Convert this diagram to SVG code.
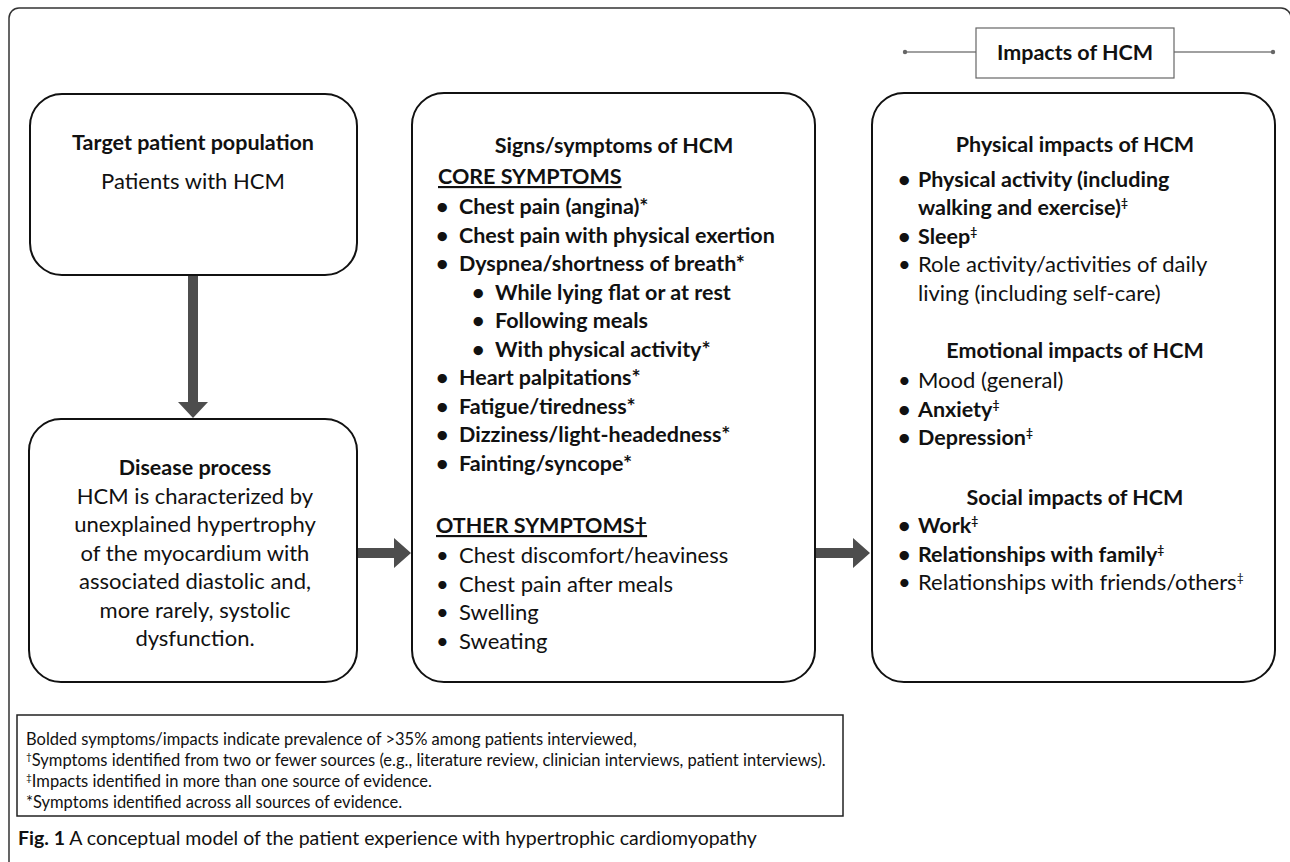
<svg xmlns="http://www.w3.org/2000/svg" width="1290" height="862" viewBox="0 0 1290 862">
<style>
  text { font-family: Lato, "Open Sans", "Liberation Sans", sans-serif; fill: #111; }
  .t { font-size: 22px; }
  .b { font-weight: bold; font-size: 21.5px; }
  .c { text-anchor: middle; }
  .box { fill: #fff; stroke: #111; stroke-width: 2; }
  .arr { fill: #4d4d4d; }
  .fn { font-size: 16.5px; }
  .sup { font-size: 12px; }
</style>
<rect x="9" y="8" width="1282" height="900" rx="10" fill="none" stroke="#333" stroke-width="1.5"/>

<g id="header">
  <line x1="905" y1="52" x2="1273" y2="52" stroke="#808080" stroke-width="1.5"/>
  <circle cx="905" cy="52" r="2.2" fill="#666"/>
  <circle cx="1273" cy="52" r="2.2" fill="#666"/>
  <rect x="976" y="28" width="198" height="50" fill="#fff" stroke="#666" stroke-width="1.2"/>
  <text class="t b c" x="1075" y="60">Impacts of HCM</text>
</g>

<g id="connectors">
  <polygon class="arr" points="188,275 198,275 198,402 208,402 193,418 178,402 188,402"/>
  <polygon class="arr" points="357,548 394,548 394,538 411,553 394,568 394,558 357,558"/>
  <polygon class="arr" points="815,548 853,548 853,538 870,553 853,568 853,558 815,558"/>
</g>

<g id="target">
  <rect class="box" x="30" y="94" width="327" height="181" rx="32"/>
  <text class="t b c" x="193" y="150">Target patient population</text>
  <text class="t c" x="193" y="189">Patients with HCM</text>
</g>

<g id="disease">
  <rect class="box" x="29" y="419" width="328" height="263" rx="32"/>
  <text class="t b c" x="195" y="475">Disease process</text>
  <text class="t c" x="195" y="503.5">HCM is characterized by</text>
  <text class="t c" x="195" y="532">unexplained hypertrophy</text>
  <text class="t c" x="195" y="560.5">of the myocardium with</text>
  <text class="t c" x="195" y="589">associated diastolic and,</text>
  <text class="t c" x="195" y="617.5">more rarely, systolic</text>
  <text class="t c" x="195" y="646">dysfunction.</text>
</g>

<g id="symptoms">
  <rect class="box" x="412" y="93" width="403" height="589" rx="32"/>
  <text class="t b c" x="614" y="153">Signs/symptoms of HCM</text>
  <text class="t b" x="438" y="184" text-decoration="underline">CORE SYMPTOMS</text>
  <g class="t b">
    <text x="436" y="214">•</text><text x="459" y="214">Chest pain (angina)*</text>
    <text x="436" y="242.5">•</text><text x="459" y="242.5">Chest pain with physical exertion</text>
    <text x="436" y="271">•</text><text x="459" y="271">Dyspnea/shortness of breath*</text>
    <text x="472" y="299.5">•</text><text x="495" y="299.5">While lying flat or at rest</text>
    <text x="472" y="328">•</text><text x="495" y="328">Following meals</text>
    <text x="472" y="356.5">•</text><text x="495" y="356.5">With physical activity*</text>
    <text x="436" y="385">•</text><text x="459" y="385">Heart palpitations*</text>
    <text x="436" y="413.5">•</text><text x="459" y="413.5">Fatigue/tiredness*</text>
    <text x="436" y="442">•</text><text x="459" y="442">Dizziness/light-headedness*</text>
    <text x="436" y="470.5">•</text><text x="459" y="470.5">Fainting/syncope*</text>
  </g>
  <text class="t b" x="436" y="533" text-decoration="underline">OTHER SYMPTOMS†</text>
  <g class="t">
    <text x="436" y="563">•</text><text x="459" y="563">Chest discomfort/heaviness</text>
    <text x="436" y="591.5">•</text><text x="459" y="591.5">Chest pain after meals</text>
    <text x="436" y="620">•</text><text x="459" y="620">Swelling</text>
    <text x="436" y="648.5">•</text><text x="459" y="648.5">Sweating</text>
  </g>
</g>

<g id="impacts">
  <rect class="box" x="872" y="93" width="403" height="589" rx="32"/>
  <text class="t b c" x="1075" y="152">Physical impacts of HCM</text>
  <text class="t b" x="898" y="187">•</text><text class="t b" x="918" y="187">Physical activity (including</text>
  <text class="t b" x="918" y="215">walking and exercise)<tspan class="sup" dy="-8">‡</tspan></text>
  <text class="t b" x="898" y="243.5">•</text><text class="t b" x="918" y="243.5">Sleep<tspan class="sup" dy="-8">‡</tspan></text>
  <text class="t" x="898" y="272">•</text><text class="t" x="918" y="272">Role activity/activities of daily</text>
  <text class="t" x="918" y="300.5">living (including self-care)</text>

  <text class="t b c" x="1075" y="358">Emotional impacts of HCM</text>
  <text class="t" x="898" y="388">•</text><text class="t" x="918" y="388">Mood (general)</text>
  <text class="t b" x="898" y="416.5">•</text><text class="t b" x="918" y="416.5">Anxiety<tspan class="sup" dy="-8">‡</tspan></text>
  <text class="t b" x="898" y="445">•</text><text class="t b" x="918" y="445">Depression<tspan class="sup" dy="-8">‡</tspan></text>

  <text class="t b c" x="1075" y="504.5">Social impacts of HCM</text>
  <text class="t b" x="898" y="533">•</text><text class="t b" x="918" y="533">Work<tspan class="sup" dy="-8">‡</tspan></text>
  <text class="t b" x="898" y="561.5">•</text><text class="t b" x="918" y="561.5">Relationships with family<tspan class="sup" dy="-8">‡</tspan></text>
  <text class="t" x="898" y="590">•</text><text class="t" x="918" y="590">Relationships with friends/others<tspan class="sup" dy="-8">‡</tspan></text>
</g>

<g id="footnote">
  <rect x="17" y="715" width="826" height="101" fill="#fff" stroke="#222" stroke-width="1.5"/>
  <text class="fn" x="26" y="745">Bolded symptoms/impacts indicate prevalence of &gt;35% among patients interviewed,</text>
  <text class="fn" x="26" y="766"><tspan font-size="10" dy="-6">†</tspan><tspan dy="6">Symptoms identified from two or fewer sources (e.g., literature review, clinician interviews, patient interviews).</tspan></text>
  <text class="fn" x="26" y="787"><tspan font-size="10" dy="-6">‡</tspan><tspan dy="6">Impacts identified in more than one source of evidence.</tspan></text>
  <text class="fn" x="26" y="808">*Symptoms identified across all sources of evidence.</text>
</g>

<g id="caption">
  <text x="18" y="845" font-size="19.5"><tspan font-weight="bold">Fig. 1</tspan> A conceptual model of the patient experience with hypertrophic cardiomyopathy</text>
</g>
</svg>
